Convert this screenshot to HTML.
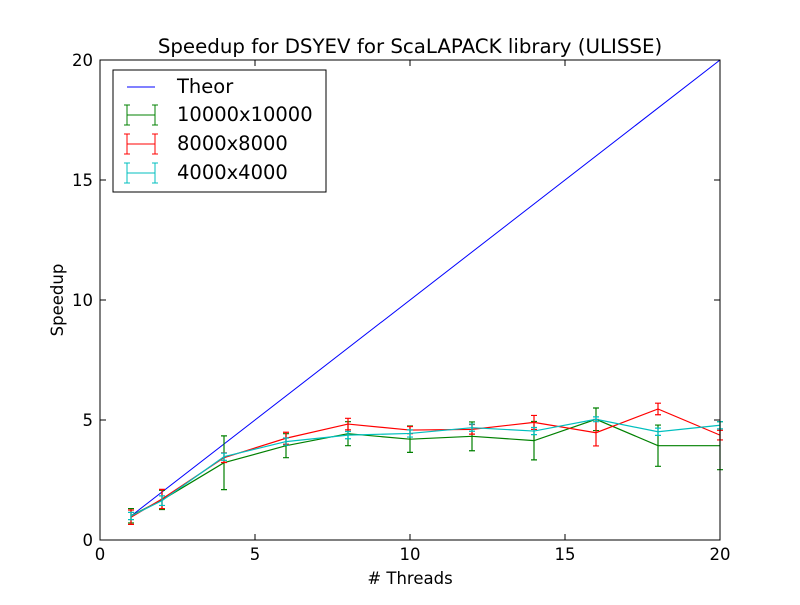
<!DOCTYPE html>
<html><head><meta charset="utf-8"><style>
body{margin:0;background:#fff;}
svg text{font-family:"DejaVu Sans","Liberation Sans",sans-serif;}
</style></head><body>
<svg id="chart" width="800" height="600" xmlns="http://www.w3.org/2000/svg">
<rect x="0" y="0" width="800" height="600" fill="#fff"/>
<text x="410" y="53" font-size="19.8" text-anchor="middle">Speedup for DSYEV for ScaLAPACK library (ULISSE)</text>
<text x="410" y="584" font-size="16.5" text-anchor="middle"># Threads</text>
<text transform="translate(63,300) rotate(-90)" font-size="16.5" text-anchor="middle">Speedup</text>
<g id="plot"></g>
<rect x="100" y="60" width="620" height="480" fill="none" stroke="#000" stroke-width="1"/>
<g>
<rect x="113" y="70" width="213" height="122" fill="#fff" stroke="#000"/>
<line x1="127" y1="87" x2="155" y2="87" stroke="#0000ff"/>
<text x="177" y="93" font-size="19.5">Theor</text>
<g stroke="#008000"><line x1="127" y1="115" x2="155" y2="115"/><line x1="127" y1="105" x2="127" y2="125"/><line x1="155" y1="105" x2="155" y2="125"/><line x1="124" y1="105" x2="130" y2="105"/><line x1="124" y1="125" x2="130" y2="125"/><line x1="152" y1="105" x2="158" y2="105"/><line x1="152" y1="125" x2="158" y2="125"/></g>
<text x="177" y="121" font-size="19.5">10000x10000</text>
<g stroke="#ff0000"><line x1="127" y1="144" x2="155" y2="144"/><line x1="127" y1="134" x2="127" y2="154"/><line x1="155" y1="134" x2="155" y2="154"/><line x1="124" y1="134" x2="130" y2="134"/><line x1="124" y1="154" x2="130" y2="154"/><line x1="152" y1="134" x2="158" y2="134"/><line x1="152" y1="154" x2="158" y2="154"/></g>
<text x="177" y="150" font-size="19.5">8000x8000</text>
<g stroke="#00bfbf"><line x1="127" y1="173" x2="155" y2="173"/><line x1="127" y1="163" x2="127" y2="183"/><line x1="155" y1="163" x2="155" y2="183"/><line x1="124" y1="163" x2="130" y2="163"/><line x1="124" y1="183" x2="130" y2="183"/><line x1="152" y1="163" x2="158" y2="163"/><line x1="152" y1="183" x2="158" y2="183"/></g>
<text x="177" y="179" font-size="19.5">4000x4000</text>
</g>
</svg>
<script>
const threads=[1,2,4,6,8,10,12,14,16,18,20];
const theor=[1,20];
const s10000=[1.01,1.67,3.22,3.93,4.43,4.2,4.32,4.14,5.03,3.93,3.93];
const e10000=[0.3,0.4,1.12,0.5,0.5,0.55,0.6,0.8,0.47,0.86,1.0];
const s8000=[0.95,1.71,3.43,4.24,4.83,4.58,4.61,4.9,4.47,5.46,4.37];
const e8000=[0.3,0.4,0.2,0.25,0.24,0.15,0.2,0.29,0.55,0.24,0.2];
const s4000=[1.0,1.64,3.47,4.1,4.37,4.44,4.68,4.54,5.03,4.51,4.78];
const e4000=[0.15,0.2,0.15,0.15,0.15,0.15,0.15,0.15,0.1,0.15,0.15];
const xTicks=[0,5,10,15,20];
const yTicks=[0,5,10,15,20];
const NS="http://www.w3.org/2000/svg";
const X=v=>100+v*31, Y=v=>540-v*24;
const g=document.getElementById('plot');
function mk(t,a){const e=document.createElementNS(NS,t);for(const k in a)e.setAttribute(k,a[k]);g.appendChild(e);return e;}
xTicks.forEach(t=>{
  const l=mk('line',{x1:X(t),x2:X(t),y1:540,y2:534,stroke:'#000'});
  
  
  mk('line',{x1:X(t),x2:X(t),y1:60,y2:66,stroke:'#000'});
  const tx=mk('text',{x:X(t),y:560,'font-size':16.5,'text-anchor':'middle'});tx.textContent=t;
  
  
});
yTicks.forEach(t=>{
  const l=mk('line',{x1:100,x2:106,y1:Y(t),y2:Y(t),stroke:'#000'});
  
  
  mk('line',{x1:714,x2:720,y1:Y(t),y2:Y(t),stroke:'#000'});
  const tx=mk('text',{x:93,y:Y(t)+6,'font-size':16.5,'text-anchor':'end'});tx.textContent=t;
  
  
});
const th=mk('line',{x1:X(theor[0]),y1:Y(theor[0]),x2:X(theor[1]),y2:Y(theor[1]),stroke:'#0000ff'});


function series(vals,errs,col,name){
  const p=mk('polyline',{points:threads.map((t,i)=>X(t)+','+Y(vals[i])).join(' '),fill:'none',stroke:col,'stroke-width':1.2});
  
  
  threads.forEach((t,i)=>{
    const x=X(t),y1=Y(vals[i]-errs[i]),y2=Y(vals[i]+errs[i]);
    const e=mk('path',{d:`M${x},${y1}V${y2}M${x-3},${y1}H${x+3}M${x-3},${y2}H${x+3}`,stroke:col,fill:'none','stroke-width':1.2});
    
    
  });
}
series(s10000,e10000,'#008000','s10000');
series(s8000,e8000,'#ff0000','s8000');
series(s4000,e4000,'#00bfbf','s4000');
</script>
</body></html>
